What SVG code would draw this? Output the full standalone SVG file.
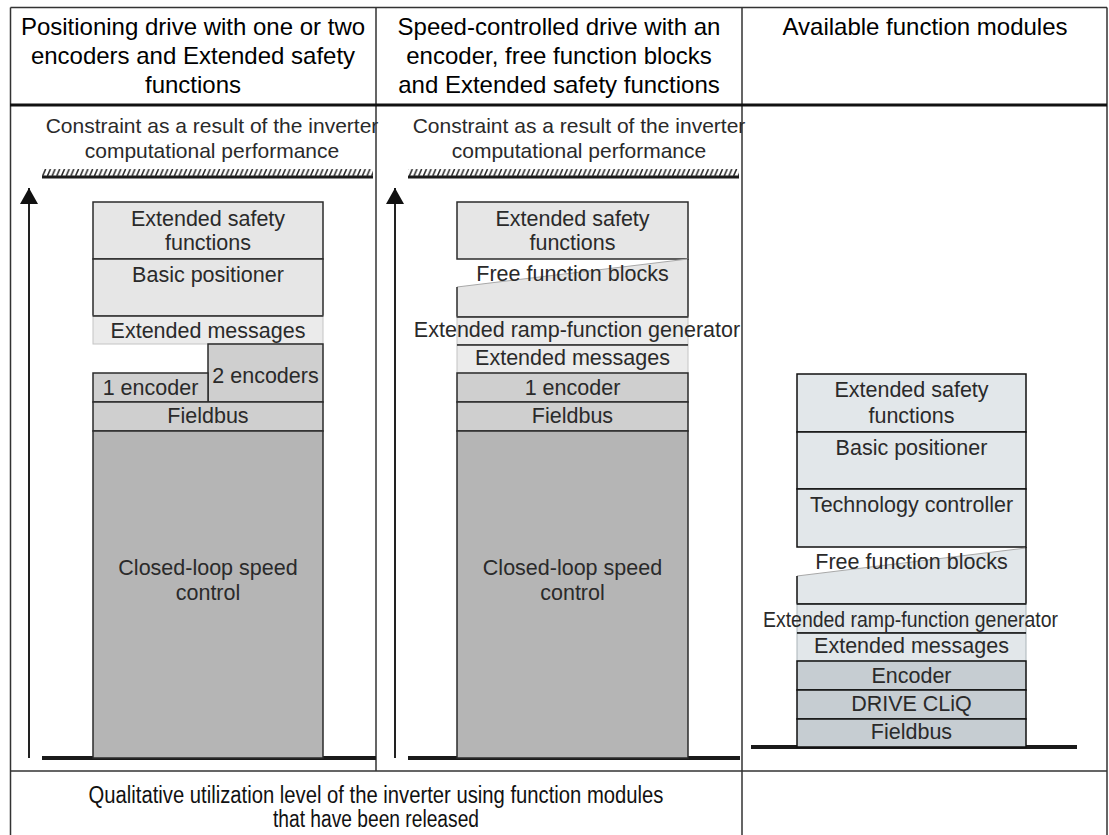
<svg xmlns="http://www.w3.org/2000/svg" width="1109" height="835" viewBox="0 0 1109 835">
<defs>
<style>
text{font-family:"Liberation Sans",Arial,sans-serif;text-anchor:middle}
.hdr{font-size:24px;fill:#000}
.t{font-size:21.5px;fill:#2a2a2a}
.c{font-size:21px;fill:#2a2a2a}
.f{font-size:23px;fill:#111}
.grid{stroke:#333;stroke-width:1.5;fill:none}
.lt{fill:#e6e6e6;stroke:#2b2b2b;stroke-width:1.5}
.lt2{fill:#ebebeb;stroke:#c4c4c4;stroke-width:1}
.md{fill:#cfcfcf;stroke:#2b2b2b;stroke-width:1.5}
.dk{fill:#b5b5b5;stroke:#2b2b2b;stroke-width:1.5}
.blt{fill:#e2e7ea;stroke:#111;stroke-width:1.5}
.blt2{fill:#e2e7ea;stroke:#aab3b8;stroke-width:1}
.bmd{fill:#c6cdd2;stroke:#111;stroke-width:1.5}
.edge{stroke:#2b2b2b;stroke-width:1.5;fill:none}
.bedge{stroke:#111;stroke-width:1.5;fill:none}
.slant{stroke:#a8a8a8;stroke-width:1;fill:none}
.base{fill:#1a1a1a}
.axis{stroke:#222;stroke-width:2;fill:none}
</style>
<pattern id="hatch" patternUnits="userSpaceOnUse" x="0" y="169" width="4.7" height="7">
<line x1="0.4" y1="7" x2="3.4" y2="0" stroke="#222" stroke-width="1.5"/>
</pattern>
<marker id="ah" markerUnits="userSpaceOnUse" markerWidth="16" markerHeight="18" viewBox="0 0 16 18" refX="16" refY="9" orient="auto">
<path d="M0,0 L16,9 L0,18 z" fill="#111"/>
</marker>
</defs>
<rect width="1109" height="835" fill="#fff"/>

<g id="table">
<path class="grid" d="M10.5,7.5 H1107 M10.5,7.5 V835 M1107,7.5 V835 M376,7.5 V771 M742,7.5 V835 M10.5,771 H1107"/>
<rect x="10" y="103.5" width="1097" height="3" fill="#111"/>
</g>

<g id="headers">
<text class="hdr" x="193" y="35">Positioning drive with one or two</text>
<text class="hdr" x="193" y="64">encoders and Extended safety</text>
<text class="hdr" x="193" y="93">functions</text>
<text class="hdr" x="559" y="35">Speed-controlled drive with an</text>
<text class="hdr" x="559" y="64">encoder, free function blocks</text>
<text class="hdr" x="559" y="93">and Extended safety functions</text>
<text class="hdr" x="925" y="35">Available function modules</text>
</g>

<g id="constraint1">
<text class="c" x="212" y="133">Constraint as a result of the inverter</text>
<text class="c" x="212" y="158">computational performance</text>
<rect x="42" y="169" width="331" height="7" fill="url(#hatch)"/>
<rect x="42" y="175.5" width="331" height="3" class="base"/>
</g>
<g id="constraint2">
<text class="c" x="579" y="133">Constraint as a result of the inverter</text>
<text class="c" x="579" y="158">computational performance</text>
<rect x="408" y="169" width="331" height="7" fill="url(#hatch)"/>
<rect x="408" y="175.5" width="331" height="3" class="base"/>
</g>

<g id="connectors">
<line class="axis" x1="29" y1="758" x2="29" y2="188" marker-end="url(#ah)"/>
<line class="axis" x1="395" y1="758" x2="395" y2="188" marker-end="url(#ah)"/>
<rect x="42" y="756" width="334" height="4" class="base"/>
<rect x="408" y="756" width="332" height="4" class="base"/>
<rect x="751" y="745" width="326" height="4" class="base"/>
</g>

<!-- Column 1 -->
<g id="c1-safety"><rect class="lt" x="93" y="202" width="230" height="57"/><text class="t" x="208" y="226">Extended safety</text><text class="t" x="208" y="250">functions</text></g>
<g id="c1-basicpos"><rect class="lt" x="93" y="259" width="230" height="57"/><text class="t" x="208" y="282">Basic positioner</text></g>
<g id="c1-extmsg"><rect class="lt2" x="93" y="316" width="230" height="28"/><path class="edge" d="M93,316 H323"/><text class="t" x="208" y="338">Extended messages</text></g>
<g id="c1-2enc"><rect class="md" x="208" y="344" width="115" height="58"/><text class="t" x="265.5" y="383">2 encoders</text></g>
<g id="c1-1enc"><rect class="md" x="93" y="373" width="115" height="29"/><text class="t" x="150.5" y="395">1 encoder</text></g>
<g id="c1-fieldbus"><rect class="md" x="93" y="402" width="230" height="29"/><text class="t" x="208" y="423">Fieldbus</text></g>
<g id="c1-speed"><rect class="dk" x="93" y="431" width="230" height="327"/><text class="t" x="208" y="575">Closed-loop speed</text><text class="t" x="208" y="600">control</text></g>

<!-- Column 2 -->
<g id="c2-safety"><rect class="lt" x="457" y="202" width="231" height="57"/><text class="t" x="572.5" y="226">Extended safety</text><text class="t" x="572.5" y="250">functions</text></g>
<g id="c2-ffb"><path d="M457,287 L688,259 V317 H457 Z" fill="#e6e6e6"/><path class="slant" d="M457,287 L688,259"/><path class="edge" d="M457,287 V317 H688 V259"/><text class="t" x="572.5" y="281">Free function blocks</text></g>
<g id="c2-ramp"><rect class="lt2" x="457" y="317" width="231" height="28"/><path class="edge" d="M457,317 H688 M457,345 H688"/><text class="t" x="577" y="337">Extended ramp-function generator</text></g>
<g id="c2-extmsg"><rect class="lt2" x="457" y="345" width="231" height="28"/><path class="edge" d="M457,345 H688"/><text class="t" x="572.5" y="365">Extended messages</text></g>
<g id="c2-1enc"><rect class="md" x="457" y="373" width="231" height="29"/><text class="t" x="572.5" y="395">1 encoder</text></g>
<g id="c2-fieldbus"><rect class="md" x="457" y="402" width="231" height="29"/><text class="t" x="572.5" y="423">Fieldbus</text></g>
<g id="c2-speed"><rect class="dk" x="457" y="431" width="231" height="327"/><text class="t" x="572.5" y="575">Closed-loop speed</text><text class="t" x="572.5" y="600">control</text></g>

<!-- Column 3 -->
<g id="c3-safety"><rect class="blt" x="797" y="374" width="229" height="58"/><text class="t" x="911.5" y="397">Extended safety</text><text class="t" x="911.5" y="423">functions</text></g>
<g id="c3-basicpos"><rect class="blt" x="797" y="432" width="229" height="57"/><text class="t" x="911.5" y="455">Basic positioner</text></g>
<g id="c3-tech"><rect class="blt" x="797" y="489" width="229" height="58"/><text class="t" x="911.5" y="512">Technology controller</text></g>
<g id="c3-ffb"><path d="M797,576 L1026,548 V604 H797 Z" fill="#e2e7ea"/><path class="slant" d="M797,576 L1026,548"/><path class="bedge" d="M797,576 V604 H1026 V547"/><text class="t" x="911.5" y="569">Free function blocks</text></g>
<g id="c3-ramp"><rect class="blt2" x="797" y="604" width="229" height="29"/><path class="bedge" d="M797,604 H1026 M797,633 H1026"/><text class="t" x="910.5" y="627" textLength="295" lengthAdjust="spacingAndGlyphs">Extended ramp-function generator</text></g>
<g id="c3-extmsg"><rect class="blt2" x="797" y="633" width="229" height="28"/><path class="bedge" d="M797,633 H1026"/><text class="t" x="911.5" y="653">Extended messages</text></g>
<g id="c3-encoder"><rect class="bmd" x="797" y="661" width="229" height="29"/><text class="t" x="911.5" y="683">Encoder</text></g>
<g id="c3-cliq"><rect class="bmd" x="797" y="690" width="229" height="29"/><text class="t" x="911.5" y="711">DRIVE CLiQ</text></g>
<g id="c3-fieldbus"><rect class="bmd" x="797" y="719" width="229" height="28"/><text class="t" x="911.5" y="739">Fieldbus</text></g>

<g id="footer">
<text class="f" x="376" y="803" textLength="575" lengthAdjust="spacingAndGlyphs">Qualitative utilization level of the inverter using function modules</text>
<text class="f" x="376" y="827" textLength="206" lengthAdjust="spacingAndGlyphs">that have been released</text>
</g>
</svg>
